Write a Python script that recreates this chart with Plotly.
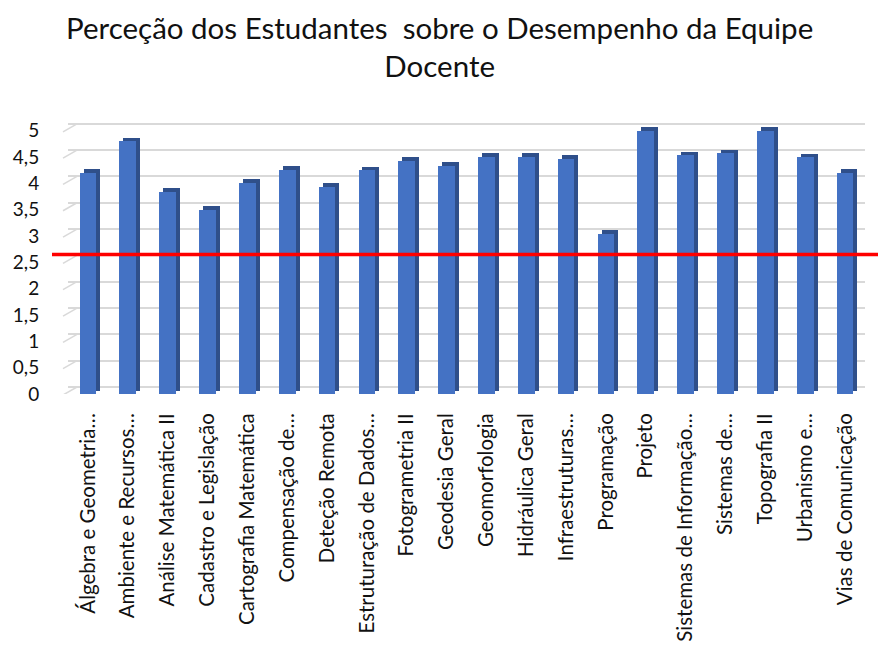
import plotly.graph_objects as go

categories = [
    "Álgebra e Geometria…", "Ambiente e Recursos…", "Análise Matemática II",
    "Cadastro e Legislação", "Cartografia Matemática", "Compensação de…",
    "Deteção Remota", "Estruturação de Dados…", "Fotogrametria II",
    "Geodesia Geral", "Geomorfologia", "Hidráulica Geral", "Infraestruturas…",
    "Programação", "Projeto", "Sistemas de Informação…", "Sistemas de…",
    "Topografia II", "Urbanismo e…", "Vias de Comunicação",
]
values = [4.20, 4.80, 3.84, 3.50, 4.01, 4.26, 3.94, 4.25, 4.43, 4.34,
          4.51, 4.51, 4.47, 3.04, 5.00, 4.54, 4.57, 5.00, 4.50, 4.20]
threshold = 2.65
y_ticks = [0, 0.5, 1, 1.5, 2, 2.5, 3, 3.5, 4, 4.5, 5]

title_text = "Perceção dos Estudantes  sobre o Desempenho da Equipe<br>Docente"

W, H = 878, 646
ML, MR, MT, MB = 68, 3, 115, 252
plot_w = W - ML - MR
plot_h = H - MT - MB
ymax = 5.3
px_per_unit = plot_h / ymax
back_shift = 7 / px_per_unit  # back wall offset in data units

FONT = "Lato, 'Noto Sans', sans-serif"
TXT = "#111111"
front_col = "#4472C4"
side_col = "#2F4F8A"

bar_w = 0.42
depth_dx = 0.10
depth_dy = 3.5 / px_per_unit

fig = go.Figure()

# depth (side + top) of the 3D bars
fig.add_trace(go.Bar(
    x=categories, y=values, base=depth_dy, width=bar_w, offset=-bar_w / 2 + depth_dx,
    marker=dict(color=side_col, line=dict(width=0)), hoverinfo="skip", showlegend=False,
))
# front face
fig.add_trace(go.Bar(
    x=categories, y=values, width=bar_w, offset=-bar_w / 2,
    marker=dict(color=front_col, line=dict(width=0)), showlegend=False,
))

# back-wall gridlines via a hidden overlay axis
fig.add_trace(go.Scatter(x=[0], y=[0], xaxis="x2", yaxis="y2", mode="markers",
                         marker=dict(opacity=0), hoverinfo="skip", showlegend=False))

x_main_end = 797 / plot_w
x2_start = (77 - ML) / plot_w

shapes = []
for v in y_ticks:
    shapes.append(dict(type="line", xref="paper", yref="y",
                       x0=(63 - ML) / plot_w, x1=x2_start,
                       y0=v - 1 / px_per_unit, y1=v + back_shift,
                       line=dict(color="#D9D9D9", width=1.5), layer="below"))
shapes.append(dict(type="line", xref="paper", yref="y",
                   x0=(52 - ML) / plot_w, x1=1 + MR / plot_w,
                   y0=threshold, y1=threshold,
                   line=dict(color="#FF0000", width=3.5), layer="above"))

title_top_px = 8
fig.add_annotation(
    text=title_text, xref="paper", yref="paper",
    x=(W / 2 - ML) / plot_w, y=(H - MB - title_top_px) / plot_h,
    xanchor="center", yanchor="top", showarrow=False, align="center",
    font=dict(family=FONT, size=29.5, color=TXT),
)

fig.update_layout(
    width=W, height=H,
    margin=dict(l=ML, r=MR, t=MT, b=MB, autoexpand=False),
    paper_bgcolor="white", plot_bgcolor="rgba(0,0,0,0)",
    separators=",.",
    barmode="overlay",
    bargap=0,
    font=dict(family=FONT, color=TXT),
    xaxis=dict(domain=[0, x_main_end], type="category", range=[-0.5, 19.5],
               tickangle=-90, tickfont=dict(size=20.5, color=TXT),
               showgrid=False, zeroline=False, showline=False,
               ticks="outside", ticklen=10, tickcolor="rgba(0,0,0,0)",
               automargin=False),
    yaxis=dict(range=[0, ymax], tickvals=y_ticks, showgrid=False, zeroline=False,
               showline=False, ticks="outside", ticklen=24, tickcolor="rgba(0,0,0,0)",
               tickfont=dict(size=19, color=TXT), automargin=False),
    xaxis2=dict(domain=[x2_start, 1], range=[0, 1], visible=False, anchor="y2",
                overlaying="x", automargin=False),
    yaxis2=dict(range=[-back_shift, ymax - back_shift], tickvals=y_ticks,
                showgrid=True, gridcolor="#D9D9D9", gridwidth=1.5,
                showticklabels=False, zeroline=False, showline=False,
                anchor="x2", overlaying="y", layer="below traces", automargin=False),
    shapes=shapes,
)

fig.write_html("out.html", config={"displayModeBar": False},
               post_script="document.body.style.margin='0';")
